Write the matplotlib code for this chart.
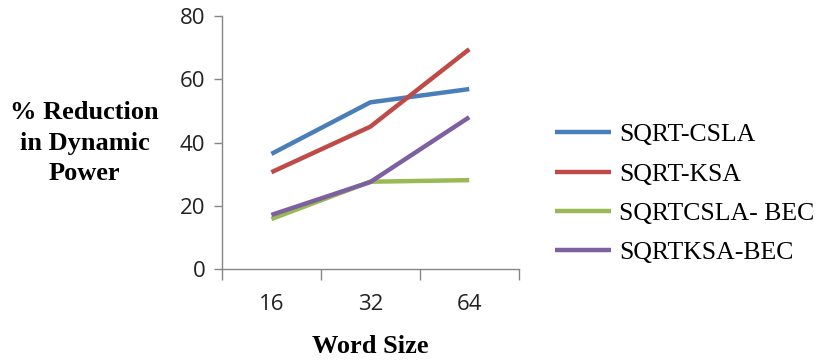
import matplotlib.pyplot as plt

word_sizes = ["16", "32", "64"]
sqrt_csla = [36.4, 52.7, 56.9]
sqrt_ksa = [30.6, 45.0, 69.5]
sqrtcsla_bec = [15.8, 27.6, 28.1]
sqrtksa_bec = [17.1, 27.5, 48.0]

series = [
	("SQRT-CSLA", sqrt_csla, "#4A7EBB"),
	("SQRT-KSA", sqrt_ksa, "#BE4B48"),
	("SQRTCSLA- BEC", sqrtcsla_bec, "#98B954"),
	("SQRTKSA-BEC", sqrtksa_bec, "#7D60A0"),
]

fig = plt.figure(figsize=(8.22, 3.64), dpi=100)
ax = fig.add_axes([0.270, 0.261, 0.361, 0.695])

x = range(1, len(word_sizes) + 1)
handles = []
for name, vals, color in series:
	h, = ax.plot(x, vals, color=color, lw=3.2, solid_capstyle="butt", label=name)
	handles.append(h)

ax.set_xlim(0.5, 3.5)
ax.set_ylim(0, 80)
ax.set_yticks([0, 20, 40, 60, 80])
ax.set_xticks(list(x))
ax.set_xticklabels(word_sizes)
ax.set_xticks([0.5, 1.5, 2.5, 3.5], minor=True)

axis_grey = "#868686"
for side in ["top", "right"]:
	ax.spines[side].set_visible(False)
for side in ["left", "bottom"]:
	ax.spines[side].set_color(axis_grey)
	ax.spines[side].set_linewidth(1)

ax.tick_params(axis="y", length=6, width=1, color=axis_grey, pad=6,
	labelsize=16, labelcolor="#222222")
ax.tick_params(axis="x", which="major", length=0, pad=18,
	labelsize=16, labelcolor="#222222")
ax.tick_params(axis="x", which="minor", length=8, width=1, color=axis_grey)
for lbl in ax.get_xticklabels() + ax.get_yticklabels():
	lbl.set_family("Open Sans")

fig.text(0.103, 0.607, "% Reduction\nin Dynamic\nPower", ha="center", va="center",
	family="Liberation Serif", fontweight="bold", fontsize=19, linespacing=1.42)
fig.text(0.4505, 0.047, "Word Size", ha="center", va="center",
	family="Liberation Serif", fontweight="bold", fontsize=19)

fig.legend(handles=handles, loc="center left", bbox_to_anchor=(0.675, 0.468),
	frameon=False, prop={"family": "Liberation Serif", "size": 18.5},
	handlelength=2.2, handletextpad=0.3, labelspacing=0.63, borderpad=0,
	borderaxespad=0)

fig.savefig("out.png", dpi=100)
